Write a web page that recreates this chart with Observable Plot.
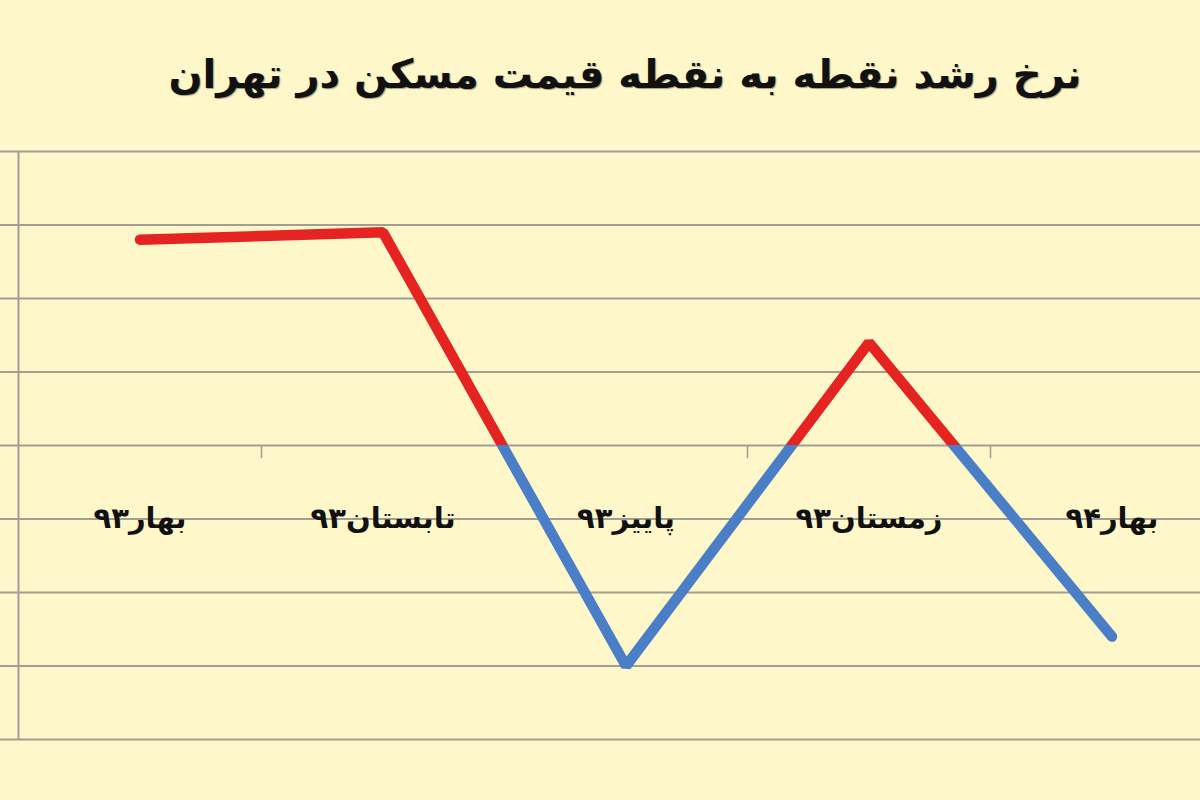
<!DOCTYPE html>
<html>
<head>
<meta charset="utf-8">
<script src="https://cdn.jsdelivr.net/npm/d3@7"></script>
<script src="https://cdn.jsdelivr.net/npm/@observablehq/plot@0.6"></script>
<style>
  html, body { margin: 0; padding: 0; background: #fdf7c9; overflow: hidden; width: 1200px; height: 800px; }
  #title {
    height: 120px; box-sizing: border-box; padding-left: 50px; padding-top: 44px;
    text-align: center; direction: rtl;
    font-family: "DejaVu Sans", sans-serif; font-weight: bold; font-size: 40px; line-height: 60px;
    color: #111; text-shadow: 1px 1px 1px rgba(0,0,0,0.35);
  }
  #chart svg { display: block; background: transparent; }
</style>
</head>
<body>
<div id="title">نرخ رشد نقطه به نقطه قیمت مسکن در تهران</div>
<div id="chart"></div>
<script>
// categories (seasons) and values (growth, in gridline units)
const seasons = ["بهار۹۳", "تابستان۹۳", "پاییز۹۳", "زمستان۹۳", "بهار۹۴"];
const growth = [2.8, 2.9, -3.0, 1.4, -2.6];
const yTicks = [-4, -3, -2, -1, 0, 1, 2, 3, 4];

const data = seasons.map((s, i) => ({i, season: s, value: growth[i]}));
const xDomain = [-0.5, seasons.length - 0.5];
const bounds = seasons.slice(0, -1).map((s, i) => i + 0.5);
const yMin = d3.min(yTicks), yMax = d3.max(yTicks);

const plot = Plot.plot({
  width: 1200,
  height: 680,
  marginLeft: 0,
  marginRight: 0,
  marginTop: 31,
  marginBottom: 61,
  style: {background: "transparent", fontFamily: "DejaVu Sans, sans-serif", color: "#111", overflow: "visible"},
  x: {type: "linear", domain: xDomain, range: [18, 1233], axis: null},
  y: {domain: [yMin, yMax], axis: null},
  marks: [
    Plot.ruleY(yTicks, {stroke: "#a39e94", strokeWidth: 2}),
    Plot.ruleX([xDomain[0]], {y1: yMin, y2: yMax, stroke: "#a39e94", strokeWidth: 2}),
    Plot.ruleX(bounds, {y1: 0, y2: -0.18, stroke: "#a39e94", strokeWidth: 1.5}),
    Plot.axisX({
      anchor: "bottom",
      ticks: data.map(d => d.i),
      tickFormat: i => seasons[i],
      tickSize: 0,
      tickPadding: 0,
      lineAnchor: "middle",
      dy: -221,
      fontSize: 29,
      fontWeight: "bold",
      fill: "#111",
      label: null
    }),
    Plot.line(data, {
      x: "i", y: "value",
      stroke: "url(#signGrad)",
      strokeWidth: 10.5,
      strokeLinecap: "round",
      strokeLinejoin: "miter",
      strokeOpacity: 1
    })
  ]
});

// gradient: red above zero, blue below zero (zero position from the y scale)
const y0 = plot.scale("y").apply(0);
const svg = d3.select(plot);
const defs = svg.insert("defs", ":first-child");
const g = defs.append("linearGradient")
  .attr("id", "signGrad")
  .attr("gradientUnits", "userSpaceOnUse")
  .attr("x1", 0).attr("x2", 0)
  .attr("y1", y0 - 1).attr("y2", y0 + 1);
g.append("stop").attr("offset", 0.5).attr("stop-color", "#e52422");
g.append("stop").attr("offset", 0.5).attr("stop-color", "#4a7ec6");

document.getElementById("chart").appendChild(plot);
</script>
</body>
</html>
